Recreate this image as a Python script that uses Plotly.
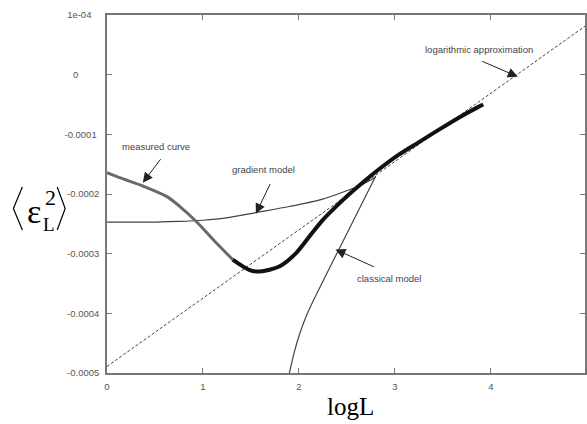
import plotly.graph_objects as go

# ---- data ----
measured_x = [0.0, 0.14, 0.38, 0.62, 0.76, 0.93, 1.14, 1.31, 1.48, 1.59, 1.80, 1.97,
              2.11, 2.24, 2.38, 2.52, 2.64, 2.83, 3.04, 3.25, 3.45, 3.66, 3.87, 3.92]
measured_y = [-1.64e-4, -1.73e-4, -1.87e-4, -2.04e-4, -2.21e-4, -2.46e-4, -2.82e-4, -3.10e-4,
              -3.27e-4, -3.30e-4, -3.21e-4, -2.99e-4, -2.71e-4, -2.45e-4, -2.22e-4, -2.01e-4,
              -1.84e-4, -1.59e-4, -1.34e-4, -1.13e-4, -0.93e-4, -0.725e-4, -0.54e-4, -0.50e-4]

gradient_x = [0.0, 0.5, 0.76, 1.0, 1.24, 1.59, 1.90, 2.24, 2.49, 2.66, 2.80]
gradient_y = [-2.47e-4, -2.47e-4, -2.46e-4, -2.44e-4, -2.40e-4, -2.30e-4, -2.21e-4, -2.09e-4,
              -1.95e-4, -1.84e-4, -1.72e-4]

classical_x = [1.90, 1.95, 2.00, 2.07, 2.14, 2.30, 2.45, 2.60, 2.80]
classical_y = [-5.00e-4, -4.66e-4, -4.38e-4, -4.07e-4, -3.82e-4, -3.30e-4, -2.82e-4, -2.34e-4,
               -1.70e-4]

logapprox_x = [0.0, 5.0]
logapprox_y = [-4.89e-4, 0.835e-4]

x_ticks = [0, 1, 2, 3, 4]
x_ticktext = ["0", "1", "2", "3", "4"]
y_ticks = [1e-4, 0, -1e-4, -2e-4, -3e-4, -4e-4, -5e-4]
y_ticktext = ["1e-04\u00a0\u00a0\u00a0", "0\u00a0\u00a0\u00a0\u00a0\u00a0\u00a0\u00a0\u00a0",
              "-0.0001\u00a0", "-0.0002", "-0.0003", "-0.0004", "-0.0005"]

SANS = "Liberation Sans, Arial, sans-serif"
SERIF = "Liberation Serif, Times New Roman, serif"

fig = go.Figure()

fig.add_trace(go.Scatter(x=logapprox_x, y=logapprox_y, mode="lines",
                         line=dict(color="#444", width=1, dash="3px,2px")))
fig.add_trace(go.Scatter(x=gradient_x, y=gradient_y, mode="lines",
                         line=dict(color="#444", width=1.2, shape="spline", smoothing=0.8)))
fig.add_trace(go.Scatter(x=classical_x, y=classical_y, mode="lines",
                         line=dict(color="#444", width=1.2, shape="spline", smoothing=0.6)))
# measured curve: lighter, sparser part then dense black part
split = 7
fig.add_trace(go.Scatter(x=measured_x[:split + 1], y=measured_y[:split + 1], mode="lines",
                         line=dict(color="#6a6a6a", width=3, shape="spline", smoothing=0.8)))
fig.add_trace(go.Scatter(x=measured_x[split:], y=measured_y[split:], mode="lines",
                         line=dict(color="#111", width=4, shape="spline", smoothing=0.8)))

# labels with arrows
labels = [
    ("measured curve", 0.508, -1.20e-4, 0.373, -1.81e-4, 19, -25),
    ("gradient model", 1.629, -1.59e-4, 1.551, -2.328e-4, 15, -31),
    ("logarithmic approximation", 3.874, 0.419e-4, 4.28, -0.034e-4, -37, -16),
    ("classical model", 2.936, -3.417e-4, 2.38, -2.93e-4, 40, 18),
]
for text, tx, ty, axp, ayp, dx, dy in labels:
    fig.add_annotation(x=tx, y=ty, text=text, showarrow=False,
                       font=dict(family=SANS, size=9.5, color="#444"))
    fig.add_annotation(x=axp, y=ayp, text="", showarrow=True, ax=dx, ay=dy,
                       arrowhead=2, arrowsize=2, arrowwidth=1, arrowcolor="#222")

# y-axis label  <eps_L^2>
def px2paper(px, py):
    return (px - 107) / 480.0, (373 - py) / 358.0

def bracket(p1, p2, p3):
    a, b, c = px2paper(*p1), px2paper(*p2), px2paper(*p3)
    return f"M {a[0]} {a[1]} L {b[0]} {b[1]} L {c[0]} {c[1]}"

fig.add_shape(type="path", xref="paper", yref="paper",
              path=bracket((22, 187), (13, 208.5), (22, 230)), line=dict(color="black", width=1.2))
fig.add_shape(type="path", xref="paper", yref="paper",
              path=bracket((57, 187), (65, 208.5), (57, 230)), line=dict(color="black", width=1.2))

for txt, (px, py), size in [("ε", (33.5, 211), 34), ("2", (50, 197), 22), ("L", (49, 224), 19)]:
    xp, yp = px2paper(px, py)
    fig.add_annotation(x=xp, y=yp, xref="paper", yref="paper", text=txt, showarrow=False,
                       xanchor="center", yanchor="middle",
                       font=dict(family=SERIF, size=size, color="black"))

# x-axis label
xp, yp = px2paper(352, 406)
fig.add_annotation(x=xp, y=yp, xref="paper", yref="paper", text="logL", showarrow=False,
                   xanchor="center", yanchor="middle",
                   font=dict(family=SERIF, size=25, color="black"))

axis_common = dict(showgrid=False, zeroline=False, showline=True, linecolor="#777", linewidth=1.5,
                   mirror="allticks", ticks="inside", ticklen=5, tickcolor="#777", tickwidth=1,
                   tickfont=dict(family=SANS, size=9.5, color="#555"))

fig.update_xaxes(range=[0, 4.98], tickmode="array", tickvals=x_ticks, ticktext=x_ticktext,
                 ticklabelstandoff=4, **axis_common)
fig.update_yaxes(range=[-5e-4, 1e-4], tickmode="array", tickvals=y_ticks, ticktext=y_ticktext,
                 ticklabelstandoff=4, **axis_common)

fig.update_layout(width=587, height=424, margin=dict(l=107, r=0, t=15, b=51),
                  paper_bgcolor="white", plot_bgcolor="white", showlegend=False)

fig.write_html("out.html")
